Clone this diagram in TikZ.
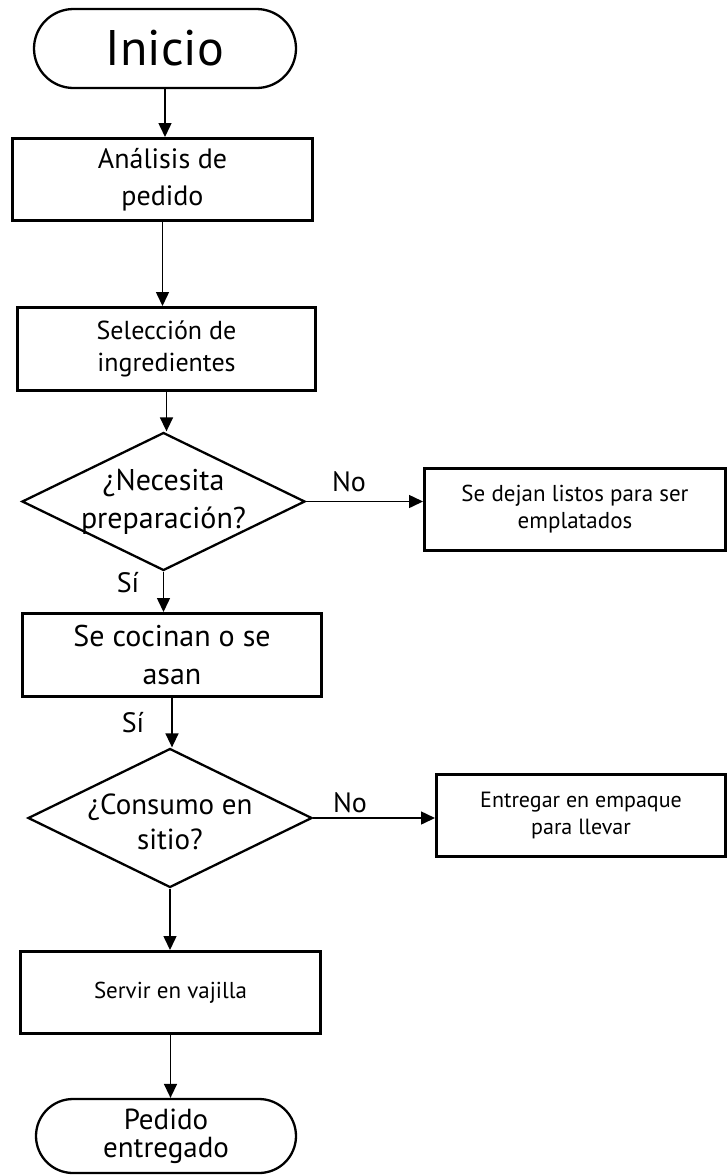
\documentclass[tikz,border=0pt]{standalone}
\usepackage{fontspec}
\setmainfont{PT Sans}
\usetikzlibrary{shapes.geometric,shapes.misc,arrows.meta}
\newcommand{\fs}[2]{\fontsize{#1}{#2}\selectfont}
\begin{document}
\begin{tikzpicture}[x=1pt,y=-1pt,
  procbox/.style={draw, line width=3pt, rectangle, inner sep=0pt, align=center},
  termbox/.style={draw, line width=2.3pt, rounded rectangle, inner sep=0pt, align=center},
  decbox/.style={draw, line width=2.3pt, diamond, inner sep=0pt},
  arr/.style={line width=1.5pt, -{Triangle[length=14pt,width=13pt]}},
  lbl/.style={inner sep=0pt, font=\fs{28}{32}}
]
\useasboundingbox (0,0) rectangle (727,1176);

\node[termbox, minimum width=262pt, minimum height=79pt, font=\fs{50}{56}] (inicio) at (165,48.5) {Inicio};
\node[procbox, minimum width=300pt, minimum height=82pt, font=\fs{28}{37}] (analisis) at (162.5,179.5) {Análisis de\\pedido};
\node[procbox, minimum width=298pt, minimum height=83pt, font=\fs{26}{32}] (seleccion) at (166.5,349) {Selección de\\ingredientes};
\node[decbox, minimum width=283pt, minimum height=138pt,
  label={[font=\fs{30}{38}, align=center]center:¿Necesita\\preparación?}] (necesita) at (163.5,501.5) {};
\node[procbox, minimum width=301pt, minimum height=82pt, font=\fs{23}{27}] (dejan) at (575,509.5) {Se dejan listos para ser\\emplatados};
\node[procbox, minimum width=299pt, minimum height=83pt, font=\fs{30}{38}] (cocinan) at (172,655) {Se cocinan o se\\asan};
\node[decbox, minimum width=284pt, minimum height=139pt,
  label={[font=\fs{29}{35}, align=center, yshift=-4pt]center:¿Consumo en\\sitio?}] (consumo) at (170,818) {};
\node[procbox, minimum width=289pt, minimum height=82pt, font=\fs{22}{27}] (empaque) at (581,815.5) {Entregar en empaque\\para llevar};
\node[procbox, minimum width=300pt, minimum height=82pt, font=\fs{23}{28}] (servir) at (170.5,992.5) {Servir en vajilla};
\node[termbox, minimum width=260pt, minimum height=74pt, font=\fs{29}{28}] (entregado) at (166,1136) {Pedido\\entregado};

\draw[arr] (inicio.south) -- (inicio.south |- analisis.north);
\draw[arr] (analisis.south) -- (analisis.south |- seleccion.north);
\draw[arr] (seleccion.south) -- (seleccion.south |- necesita.north);
\draw[arr] (necesita.south) -- (necesita.south |- cocinan.north);
\draw[arr] (cocinan.south) -- (cocinan.south |- consumo.north);
\draw[arr] (consumo.south) -- (consumo.south |- servir.north);
\draw[arr] (servir.south) -- (servir.south |- entregado.north);
\draw[arr] (necesita.east) -- (necesita.east -| dejan.west);
\draw[arr] (consumo.east) -- (consumo.east -| empaque.west);

\node[lbl] (no1) at (349,482) {No};
\node[lbl] (no2) at (350,803) {No};
\node[lbl] (si1) at (128,583) {Sí};
\node[lbl] (si2) at (133,723) {Sí};
\end{tikzpicture}
\end{document}
